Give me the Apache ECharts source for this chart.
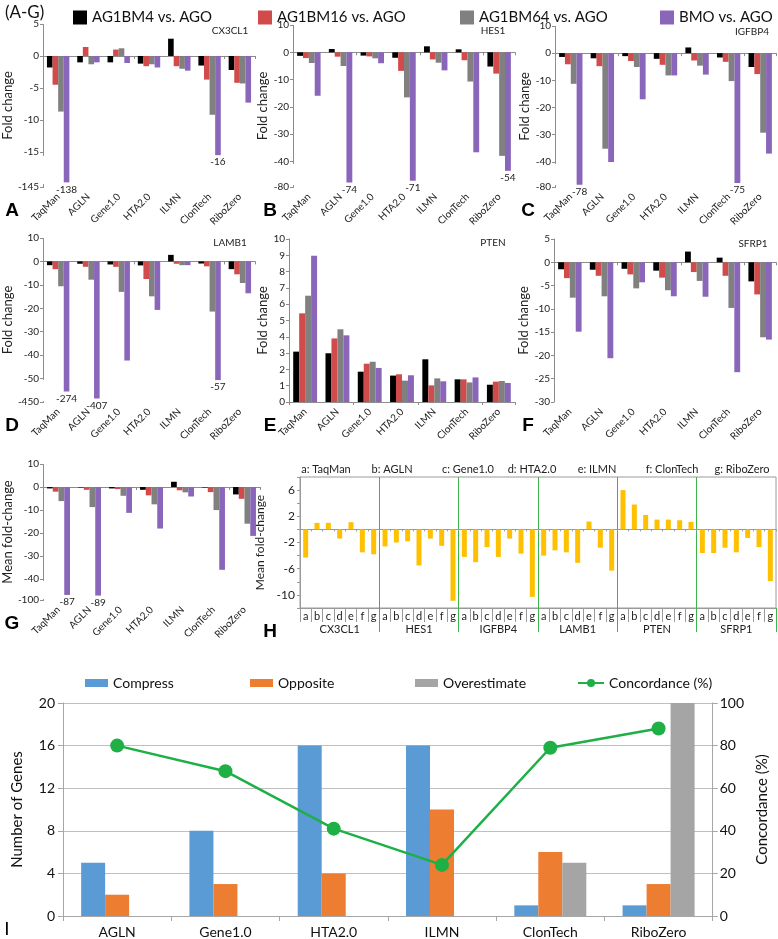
<!DOCTYPE html>
<html><head><meta charset="utf-8">
<script src="https://cdn.jsdelivr.net/npm/echarts@6/dist/echarts.min.js"></script>
<style>html,body{margin:0;padding:0;background:#fff}#c{width:778px;height:939px}</style>
</head><body><div id="c"></div>
<script>
// ---------- DATA ----------
const methods = ['TaqMan','AGLN','Gene1.0','HTA2.0','ILMN','ClonTech','RiboZero'];
const seriesNames = ['AG1BM4 vs. AGO','AG1BM16 vs. AGO','AG1BM64 vs. AGO','BMO vs. AGO'];

const cx_bm4  = [-1.8, -1.0, -1.0, -1.2, 2.7, -1.5, -2.2];
const cx_bm16 = [-4.5, 1.4, 1.0, -1.6, -1.6, -3.7, -4.2];
const cx_bm64 = [-8.7, -1.3, 1.2, -1.3, -2.0, -9.2, -4.3];
const cx_bmo  = [-138, -1.0, -1.1, -1.8, -2.3, -16, -7.3];

const hes_bm4  = [-1.3, 1.2, -1.2, -2.0, 2.2, 1.1, -5.2];
const hes_bm16 = [-2.1, -1.6, -1.5, -6.8, -2.6, -2.9, -7.8];
const hes_bm64 = [-3.9, -5.0, -2.2, -16.5, -3.8, -10.7, -37.9];
const hes_bmo  = [-15.9, -74, -4.0, -71, -6.6, -36.6, -54];

const igf_bm4  = [-1.4, -1.9, -1.1, -2.1, 2.1, -1.6, -5.1];
const igf_bm16 = [-4.1, -4.8, -2.9, -4.3, -2.7, -3.2, -7.7];
const igf_bm64 = [-11.3, -35.2, -5.1, -8.2, -4.6, -10.3, -29.3];
const igf_bmo  = [-78, -40.1, -17.0, -8.2, -7.9, -75, -37.0];

const lam_bm4  = [-1.6, -1.0, -1.3, -1.7, 2.8, -0.9, -3.3];
const lam_bm16 = [-3.3, -2.3, -2.3, -7.5, -1.0, -2.1, -5.5];
const lam_bm64 = [-10.6, -7.8, -13.0, -14.9, -1.6, -21.4, -9.2];
const lam_bmo  = [-274, -407, -42.3, -20.7, -1.6, -57, -13.6];

const pten_bm4  = [3.09, 2.99, 1.86, 1.62, 2.62, 1.39, 1.06];
const pten_bm16 = [5.44, 3.90, 2.35, 1.70, 1.02, 1.39, 1.25];
const pten_bm64 = [6.52, 4.46, 2.47, 1.31, 1.45, 1.20, 1.29];
const pten_bmo  = [8.98, 4.09, 2.09, 1.64, 1.27, 1.51, 1.17];

const sfrp_bm4  = [-1.5, -1.6, -1.4, -1.8, 2.3, 1.0, -4.1];
const sfrp_bm16 = [-3.4, -2.9, -2.6, -3.3, -2.1, -2.9, -6.9];
const sfrp_bm64 = [-7.6, -7.3, -5.6, -6.0, -4.0, -9.8, -16.1];
const sfrp_bmo  = [-14.9, -20.6, -4.3, -7.3, -7.4, -23.6, -16.6];

const mean_bm4  = [-0.6, -0.2, -0.6, -1.2, 2.3, -0.2, -3.2];
const mean_bm16 = [-2.0, -1.2, -0.9, -3.6, -1.4, -2.2, -5.1];
const mean_bm64 = [-6.1, -8.7, -3.8, -7.5, -2.3, -10.0, -15.9];
const mean_bmo  = [-87, -89, -11.2, -18.0, -4.1, -35.9, -21.2];

const ticksA = [5, 0, -5, -10, -15, -145];
const ticksB = [10, 0, -10, -20, -30, -40, -80];
const ticksC = [10, 0, -10, -20, -30, -40, -80];
const ticksD = [10, 0, -10, -20, -30, -40, -50, -450];
const ticksE = [0,1,2,3,4,5,6,7,8,9,10];
const ticksF = [5, 0, -5, -10, -15, -20, -25, -30];
const ticksG = [10, 0, -10, -20, -30, -40, -100];

// Panel H
const hGenes = ['CX3CL1','HES1','IGFBP4','LAMB1','PTEN','SFRP1'];
const hLetters = ['a','b','c','d','e','f','g'];
const hMethodLabels = ['a: TaqMan','b: AGLN','c: Gene1.0','d: HTA2.0','e: ILMN','f: ClonTech','g: RiboZero'];
const h_cx3cl1 = [-4.3, 1.0, 1.0, -1.4, 1.1, -3.5, -3.8];
const h_hes1   = [-2.6, -2.0, -1.8, -5.5, -1.4, -2.5, -10.9];
const h_igfbp4 = [-4.2, -5.0, -2.7, -4.2, -1.4, -3.7, -10.3];
const h_lamb1  = [-4.0, -3.2, -3.5, -5.1, 1.2, -2.8, -6.3];
const h_pten   = [6.0, 3.8, 2.2, 1.5, 1.5, 1.4, 1.15];
const h_sfrp1  = [-3.6, -3.6, -2.8, -3.5, -1.3, -2.7, -7.9];
const hTicks = [6, 2, -2, -6, -10];

// Panel I
const iMethods = ['AGLN','Gene1.0','HTA2.0','ILMN','ClonTech','RiboZero'];
const iSeries = ['Compress','Opposite','Overestimate','Concordance (%)'];
const iCompress = [5, 8, 16, 16, 1, 1];
const iOpposite = [2, 3, 4, 10, 6, 3];
const iOverestimate = [0, 0, 0, 0, 5, 20];
const iConcordance = [80, 68, 41, 24, 79, 88];
const iLeftTicks = [0, 4, 8, 12, 16, 20];
const iRightTicks = [0, 20, 40, 60, 80, 100];

// ---------- LAYOUT / STYLE ----------
const FONT = 'Lato, "Noto Sans", sans-serif';
const colors = ['#000000', '#d14b4b', '#808080', '#8a66bb'];
const axisGray = '#8c8c8c';

const panels = [
  {gene:'CX3CL1', vals:[cx_bm4,cx_bm16,cx_bm64,cx_bmo], ticks:ticksA, min:-145, max:5, interval:5,
   brk:{start:-144.5, end:-15.5, gap:4.5}, rect:[33,24,222,163], yName:'Fold change', letter:'A', gx:230, gy:31},
  {gene:'HES1', vals:[hes_bm4,hes_bm16,hes_bm64,hes_bmo], ticks:ticksB, min:-80, max:10, interval:10,
   brk:{start:-79.5, end:-40.5, gap:8.3}, rect:[293,25,222,162], yName:'Fold change', letter:'B', gx:493, gy:31},
  {gene:'IGFBP4', vals:[igf_bm4,igf_bm16,igf_bm64,igf_bmo], ticks:ticksC, min:-80, max:10, interval:10,
   brk:{start:-79.5, end:-40.5, gap:8.3}, rect:[555,26,221,161], yName:'Fold change', letter:'C', gx:752, gy:32},
  {gene:'LAMB1', vals:[lam_bm4,lam_bm16,lam_bm64,lam_bmo], ticks:ticksD, min:-450, max:10, interval:10,
   brk:{start:-449.5, end:-50.5, gap:9}, rect:[33,238,222,164], yName:'Fold change', letter:'D', gx:230, gy:243},
  {gene:'PTEN', vals:[pten_bm4,pten_bm16,pten_bm64,pten_bmo], ticks:ticksE, min:0, max:10, interval:1,
   brk:null, rect:[289,239,226,163], yName:'Fold change', letter:'E', gx:493, gy:243},
  {gene:'SFRP1', vals:[sfrp_bm4,sfrp_bm16,sfrp_bm64,sfrp_bmo], ticks:ticksF, min:-30, max:5, interval:5,
   brk:null, rect:[554,239,222,163], yName:'Fold change', letter:'F', gx:753, gy:244},
  {gene:'', vals:[mean_bm4,mean_bm16,mean_bm64,mean_bmo], ticks:ticksG, min:-100, max:10, interval:10,
   brk:{start:-99.5, end:-40.5, gap:8}, rect:[33,464,227,136], yName:'Mean fold-change', letter:'G', gx:0, gy:0}
];

const grid = [], xAxis = [], yAxis = [], series = [], graphic = [];
const fmt = (list) => (v) => {
  const r = Math.round(v * 1000) / 1000;
  return list.indexOf(r) >= 0 ? String(r) : '';
};
const LETTER_FONT = '"Liberation Sans", Arial, sans-serif';

panels.forEach((p, i) => {
  grid.push({left:p.rect[0], top:p.rect[1], width:p.rect[2], height:p.rect[3], containLabel:false});
  xAxis.push({gridIndex:i, type:'category', data:methods,
    axisLine:{show:true, onZero:true, lineStyle:{color:axisGray, width:1}},
    axisTick:{show:true, length:3, lineStyle:{color:axisGray}},
    axisLabel:{show:false}, splitLine:{show:false}});
  xAxis.push({gridIndex:i, type:'category', data:methods, position:'bottom',
    axisLine:{show:false, onZero:false}, axisTick:{show:false},
    axisLabel:{show:true, rotate:45, fontSize:10, color:'#222', margin:8, fontFamily:FONT, interval:0},
    splitLine:{show:false}});
  const ya = {gridIndex:i, type:'value', min:p.min, max:p.max, interval:p.interval,
    axisLine:{show:true, lineStyle:{color:axisGray}},
    axisTick:{show:true, length:3, lineStyle:{color:axisGray}, customValues:p.ticks},
    splitLine:{show:false},
    axisLabel:{fontSize:10, color:'#222', margin:4, fontFamily:FONT, customValues:p.ticks, showMinLabel:true, showMaxLabel:true},
    name:p.yName, nameLocation:'middle', nameGap:p.yName.length > 12 ? 22 : 20,
    nameTextStyle:{fontSize:13, color:'#222', fontFamily:FONT}};
  if (p.brk) {
    ya.breaks = [{start:p.brk.start, end:p.brk.end, gap:p.brk.gap}];
    ya.breakArea = {show:false};
  }
  yAxis.push(ya);
  seriesNames.forEach((nm, s) => {
    series.push({type:'bar', name:nm, xAxisIndex:2*i, yAxisIndex:i,
      data:p.vals[s].map(v => (s === 3 && p.brk && v < p.brk.end) ? {value:v, label:{show:true}} : v),
      itemStyle:{color:colors[s]}, barGap:'0%', barCategoryGap:'26%',
      label:{show:false, position:'bottom', fontSize:10, color:'#222', distance:2, fontFamily:FONT, formatter:'{c}'},
      emphasis:{disabled:true}, animation:false});
  });
  const lx = p.rect[0] < 100 ? 12 : (p.rect[0] < 400 ? 270 : 528);
  graphic.push({type:'text', x:lx, y:p.rect[1] + p.rect[3] + 24,
    style:{text:p.letter, fontSize:19, fontWeight:'bold', fontFamily:LETTER_FONT, fill:'#000', align:'center', verticalAlign:'middle'}});
  if (p.gene) graphic.push({type:'text', x:p.gx, y:p.gy,
    style:{text:p.gene, fontSize:10, fontFamily:FONT, fill:'#222', align:'center', verticalAlign:'middle'}});
});

// ---------- PANEL H ----------
const hIdxGrid = grid.length;
grid.push({left:300, top:477, width:476, height:131, show:true, borderColor:'#9a9a9a', borderWidth:1});
const hCats = [];
hGenes.forEach(g => hLetters.forEach(l => hCats.push(g + '|' + l)));
const hVals = [].concat(h_cx3cl1, h_hes1, h_igfbp4, h_lamb1, h_pten, h_sfrp1);
const inner = (idx) => idx > 0 && idx < hGenes.length;
const hx0 = xAxis.length;
xAxis.push({gridIndex:hIdxGrid, type:'category', data:hCats,
  axisLine:{show:true, onZero:true, lineStyle:{color:'#9a9a9a'}},
  axisTick:{show:true, length:2, interval:0, lineStyle:{color:'#9a9a9a'}},
  axisLabel:{show:false}, splitLine:{show:false}});
xAxis.push({gridIndex:hIdxGrid, type:'category', data:hCats, position:'bottom',
  axisLine:{show:true, onZero:false, lineStyle:{color:'#9a9a9a'}},
  axisTick:{show:true, length:14, interval:0, lineStyle:{color:'#9a9a9a'}},
  axisLabel:{show:true, interval:0, fontSize:11, color:'#222', margin:3, fontFamily:FONT, formatter:(v) => v.split('|')[1]},
  splitLine:{show:false}});
xAxis.push({gridIndex:hIdxGrid, type:'category', data:hGenes, position:'bottom',
  axisLine:{show:false, onZero:false},
  axisTick:{show:true, length:24, interval:inner, lineStyle:{color:'#3cb44b', width:1}},
  axisLabel:{show:true, fontSize:11, color:'#222', margin:16, fontFamily:FONT},
  splitLine:{show:true, showMinLine:false, showMaxLine:false, lineStyle:{color:'#3cb44b', width:1}}});
const hy = yAxis.length;
yAxis.push({gridIndex:hIdxGrid, type:'value', min:-12, max:8, interval:2,
  axisLine:{show:true, lineStyle:{color:'#9a9a9a'}},
  axisTick:{show:true, length:3, lineStyle:{color:'#9a9a9a'}},
  splitLine:{show:false},
  axisLabel:{fontSize:12, color:'#222', margin:5, fontFamily:FONT, formatter:fmt(hTicks)},
  name:'Mean fold-change', nameLocation:'middle', nameGap:24,
  nameTextStyle:{fontSize:12, color:'#222', fontFamily:FONT}});
series.push({type:'bar', name:'Mean fold-change', xAxisIndex:hx0, yAxisIndex:hy, data:hVals,
  barWidth:5, itemStyle:{color:'#ffc000'}, emphasis:{disabled:true}, animation:false});
const hLabelX = [326, 392, 468, 532, 597, 672, 742];
hMethodLabels.forEach((t, k) => graphic.push({type:'text', x:hLabelX[k], y:469,
  style:{text:t, fontSize:11, fontFamily:FONT, fill:'#222', align:'center', verticalAlign:'middle'}}));
graphic.push({type:'text', x:270, y:632, style:{text:'H', fontSize:19, fontWeight:'bold', fontFamily:LETTER_FONT, fill:'#000', align:'center', verticalAlign:'middle'}});

// ---------- PANEL I ----------
const iGrid = grid.length;
grid.push({left:63, top:703, right:57, height:217});
const ix = xAxis.length;
xAxis.push({gridIndex:iGrid, type:'category', data:iMethods,
  axisLine:{show:true, lineStyle:{color:'#a6a6a6'}},
  axisTick:{show:true, length:5, lineStyle:{color:'#a6a6a6'}},
  axisLabel:{fontSize:14, color:'#111', margin:9, fontFamily:FONT}});
const iyL = yAxis.length;
yAxis.push({gridIndex:iGrid, type:'value', min:0, max:20, interval:4, position:'left',
  axisLine:{show:true, lineStyle:{color:'#a6a6a6'}},
  axisTick:{show:true, length:5, lineStyle:{color:'#a6a6a6'}},
  splitLine:{show:true, lineStyle:{color:'#bfbfbf', width:1}},
  axisLabel:{fontSize:14, color:'#111', margin:8, fontFamily:FONT, formatter:fmt(iLeftTicks)},
  name:'Number of Genes', nameLocation:'middle', nameGap:38,
  nameTextStyle:{fontSize:15, color:'#111', fontFamily:FONT}});
yAxis.push({gridIndex:iGrid, type:'value', min:0, max:100, interval:20, position:'right',
  axisLine:{show:true, lineStyle:{color:'#a6a6a6'}},
  axisTick:{show:true, length:5, lineStyle:{color:'#a6a6a6'}},
  splitLine:{show:false},
  axisLabel:{fontSize:14, color:'#111', margin:7, fontFamily:FONT, formatter:fmt(iRightTicks)},
  name:'Concordance (%)', nameLocation:'middle', nameGap:40,
  nameTextStyle:{fontSize:15, color:'#111', fontFamily:FONT}});
const iBarCommon = {type:'bar', xAxisIndex:ix, yAxisIndex:iyL, barWidth:24, barGap:'0%', emphasis:{disabled:true}, animation:false};
series.push(Object.assign({name:iSeries[0], data:iCompress, itemStyle:{color:'#5b9bd5'}}, iBarCommon));
series.push(Object.assign({name:iSeries[1], data:iOpposite, itemStyle:{color:'#ed7d31'}}, iBarCommon));
series.push(Object.assign({name:iSeries[2], data:iOverestimate, itemStyle:{color:'#a5a5a5'}}, iBarCommon));
series.push({type:'line', name:iSeries[3], xAxisIndex:ix, yAxisIndex:iyL + 1, data:iConcordance,
  symbol:'circle', symbolSize:14, lineStyle:{color:'#1eaf45', width:2.5}, itemStyle:{color:'#1eaf45'},
  z:10, emphasis:{disabled:true}, animation:false});
graphic.push({type:'text', x:7, y:930, style:{text:'I', fontSize:19, fontFamily:LETTER_FONT, fill:'#000', align:'center', verticalAlign:'middle'}});
graphic.push({type:'text', x:5, y:13, style:{text:'(A-G)', fontSize:17, fontFamily:FONT, fill:'#111', align:'left', verticalAlign:'middle'}});

// legends: one per item so each sits where the reference puts it
const legendTopX = [68, 253, 455, 655];
const legendIX = [80, 245, 410, 572];
const legend = [];
seriesNames.forEach((n, k) => legend.push({data:[{name:n, icon:'rect'}], left:legendTopX[k], top:5,
  itemWidth:14, itemHeight:14, itemGap:6, textStyle:{fontSize:15, color:'#111', fontFamily:FONT}, selectedMode:false}));
iSeries.forEach((n, k) => legend.push({data:[k < 3 ? {name:n, icon:'rect'} : {name:n}], left:legendIX[k], top:671,
  itemWidth:k < 3 ? 23 : 26, itemHeight:k < 3 ? 8 : 10, textStyle:{fontSize:14, color:'#111', fontFamily:FONT}, selectedMode:false}));

const option = {
  animation:false,
  backgroundColor:'#fff',
  textStyle:{fontFamily:FONT},
  legend, grid, xAxis, yAxis, series, graphic
};
const chart = echarts.init(document.getElementById('c'));
chart.setOption(option);
</script>
</body></html>
